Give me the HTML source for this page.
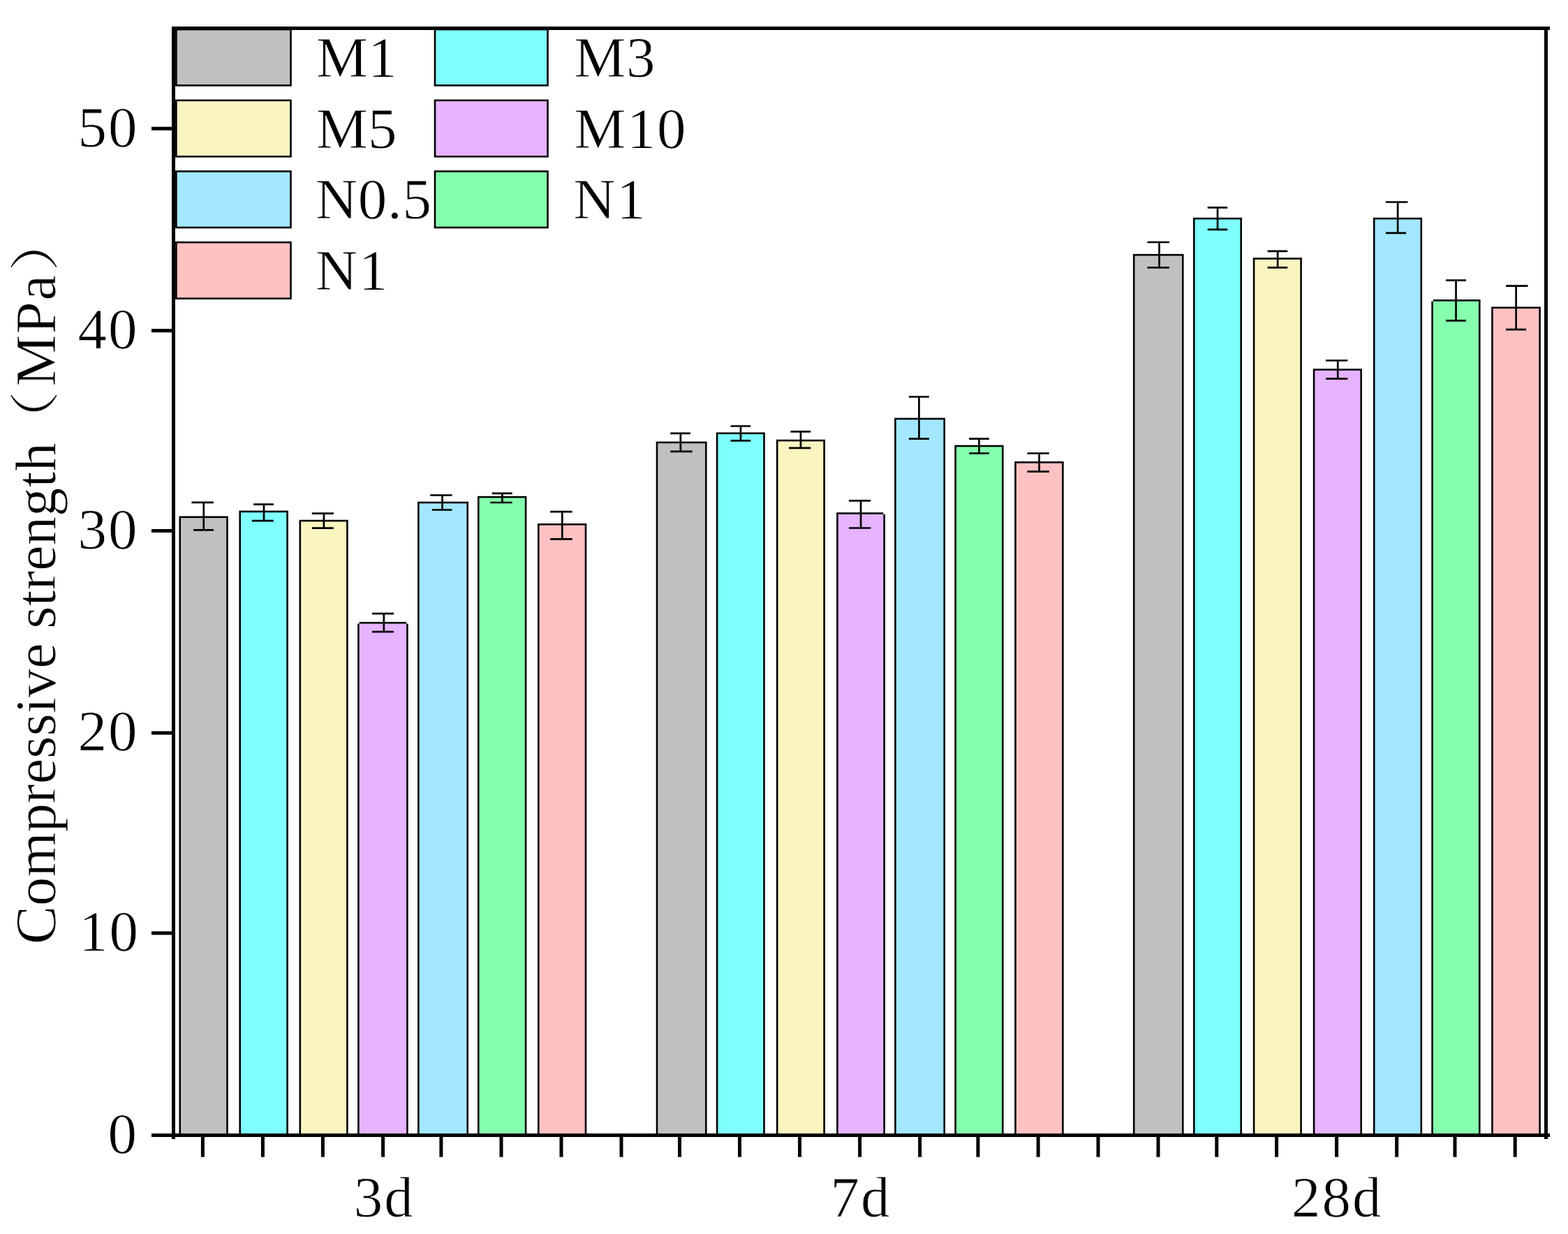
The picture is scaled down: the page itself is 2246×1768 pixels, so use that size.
<!DOCTYPE html>
<html lang="en">
<head>
<meta charset="utf-8">
<title>Compressive strength</title>
<style>
html,body{margin:0;padding:0;background:#fff;}
body{width:2246px;height:1768px;overflow:hidden;}
svg{display:block;}
text{font-family:'Liberation Serif', 'Noto Serif CJK SC', serif;fill:#000;stroke:#fff;stroke-width:0.8px;}
.bar{stroke:#000;stroke-width:2.6;}
.eb{stroke:#000;stroke-width:2.7;fill:none;}
.ax{fill:#000;}
.cjk{font-family:'Noto Serif CJK SC','Liberation Serif',serif;}
</style>
</head>
<body>
<svg width="2246" height="1768" viewBox="0 0 2246 1768">
<rect x="0" y="0" width="2246" height="1768" fill="#fff"/>
<g id="bars">
<rect class="bar" x="257.75" y="740.8" width="67.75" height="885.2" fill="#C0C0C0"/>
<rect class="bar" x="343.7" y="732.9" width="67.9" height="893.1" fill="#7FFFFF"/>
<rect class="bar" x="429.8" y="746.1" width="67.6" height="879.9" fill="#FAF4C0"/>
<rect class="bar" x="513.4" y="892.3" width="70" height="733.7" fill="#E6B3FF"/>
<rect x="511.6" y="890.5" width="3.1" height="3.1" fill="#fff"/>
<rect x="582.1" y="890.5" width="3.1" height="3.1" fill="#fff"/>
<rect class="bar" x="599.4" y="720" width="70.3" height="906" fill="#A3E7FF"/>
<rect class="bar" x="685.3" y="712.1" width="67.8" height="913.9" fill="#85FFAD"/>
<rect class="bar" x="771.3" y="751.3" width="67.7" height="874.7" fill="#FFC2C2"/>
<rect class="bar" x="941" y="633.9" width="70.3" height="992.1" fill="#C0C0C0"/>
<rect class="bar" x="1027.1" y="620.8" width="67.4" height="1005.2" fill="#7FFFFF"/>
<rect class="bar" x="1113.2" y="631.1" width="67.4" height="994.9" fill="#FAF4C0"/>
<rect class="bar" x="1199.4" y="735.5" width="67.2" height="890.5" fill="#E6B3FF"/>
<rect x="1265.3" y="733.7" width="3.1" height="3.1" fill="#fff"/>
<rect class="bar" x="1282.4" y="600" width="70.3" height="1026" fill="#A3E7FF"/>
<rect class="bar" x="1368.6" y="639" width="67.7" height="987" fill="#85FFAD"/>
<rect class="bar" x="1454.5" y="662.4" width="67.9" height="963.6" fill="#FFC2C2"/>
<rect class="bar" x="1624.2" y="365.2" width="70.1" height="1260.8" fill="#C0C0C0"/>
<rect class="bar" x="1710.3" y="313.1" width="67.4" height="1312.9" fill="#7FFFFF"/>
<rect class="bar" x="1796.1" y="370.5" width="67.5" height="1255.5" fill="#FAF4C0"/>
<rect class="bar" x="1882.1" y="529.6" width="67.6" height="1096.4" fill="#E6B3FF"/>
<rect class="bar" x="1968.2" y="313.1" width="67.6" height="1312.9" fill="#A3E7FF"/>
<rect class="bar" x="2051.6" y="430.4" width="67.7" height="1195.6" fill="#85FFAD"/>
<rect x="2049.8" y="428.6" width="3.1" height="3.1" fill="#fff"/>
<rect class="bar" x="2137.5" y="440.8" width="68.1" height="1185.2" fill="#FFC2C2"/>
</g>
<g id="errors">
<path class="eb" d="M274.5 719.9H306M291.75 719.9V759.4M277.1 759.4H306"/>
<path class="eb" d="M363.2 722.7H391.9M378 722.7V746.1M360.8 746.1H391.9"/>
<path class="eb" d="M446.8 735.6H477.9M463.95 735.6V756.6M446.8 756.6H477.9"/>
<path class="eb" d="M533.1 879.2H564M549.85 879.2V905.2M533.1 905.2H564"/>
<path class="eb" d="M616.1 709.5H647.6M633.55 709.5V730.5M618.9 730.5H647.6"/>
<path class="eb" d="M705 706.9H733.7M719.45 706.9V720M702.3 720H733.7"/>
<path class="eb" d="M788.1 733.1H819.7M805.3 733.1V772.3M788.1 772.3H819.7"/>
<path class="eb" d="M960.2 620.9H989M974.85 620.9V646.9M960.2 646.9H991.8"/>
<path class="eb" d="M1046.5 610.5H1075.2M1060.95 610.5V631.3M1046.5 631.3H1075.2"/>
<path class="eb" d="M1132.4 618.3H1161.3M1146.95 618.3V641.8M1130 641.8H1161.3"/>
<path class="eb" d="M1216 717.3H1247.3M1233.05 717.3V756.5M1216 756.5H1247.3"/>
<path class="eb" d="M1301.9 568.5H1330.8M1316.45 568.5V628.7M1301.9 628.7H1330.8"/>
<path class="eb" d="M1388.1 628.7H1416.9M1402.45 628.7V649.5M1388.1 649.5H1416.9"/>
<path class="eb" d="M1471.5 649.5H1502.9M1488.55 649.5V675.6M1471.5 675.6H1502.9"/>
<path class="eb" d="M1643.5 347H1674.9M1660.5 347V383.4M1643.5 383.4H1674.9"/>
<path class="eb" d="M1729.7 297.3H1758.2M1744.05 297.3V328.8M1729.7 328.8H1758.2"/>
<path class="eb" d="M1815.6 359.9H1844.3M1830.15 359.9V383.4M1815.6 383.4H1844.3"/>
<path class="eb" d="M1899 516.5H1930.4M1916.25 516.5V542.7M1899 542.7H1930.4"/>
<path class="eb" d="M1984.9 289.5H2016.5M2002.15 289.5V333.9M1984.9 333.9H2014"/>
<path class="eb" d="M2071 401.7H2100M2085.55 401.7V459.3M2071 459.3H2100"/>
<path class="eb" d="M2157.1 409.6H2188.5M2171.65 409.6V472.2M2157.1 472.2H2186"/>
</g>
<g id="legend">
<rect class="bar" x="252.4" y="42.1" width="164.1" height="80.3" fill="#C0C0C0"/>
<text x="453.1" y="110.05" font-size="83" letter-spacing="0">M1</text>
<rect class="bar" x="623" y="42.1" width="161.5" height="80.3" fill="#7FFFFF"/>
<text x="822.6" y="110.05" font-size="83" letter-spacing="0.5">M3</text>
<rect class="bar" x="252.4" y="143.8" width="164.1" height="80.5" fill="#FAF4C0"/>
<text x="453.1" y="211.8" font-size="83" letter-spacing="0">M5</text>
<rect class="bar" x="623" y="143.8" width="161.5" height="80.5" fill="#E6B3FF"/>
<text x="822.6" y="211.8" font-size="83" letter-spacing="1.5">M10</text>
<rect class="bar" x="252.4" y="245.5" width="164.1" height="80.5" fill="#A3E7FF"/>
<text x="451.9" y="313.3" font-size="83" letter-spacing="0.8">N0.5</text>
<rect class="bar" x="623" y="245.5" width="161.5" height="80.5" fill="#85FFAD"/>
<text x="821.4" y="313.3" font-size="83" letter-spacing="2">N1</text>
<rect class="bar" x="252.4" y="347.2" width="164.1" height="80.5" fill="#FFC2C2"/>
<text x="451.9" y="415.1" font-size="83" letter-spacing="2">N1</text>
</g>
<g id="axes" class="ax">
<rect x="246" y="38" width="5" height="1594"/>
<rect x="246" y="38" width="1974" height="5"/>
<rect x="2212" y="38" width="5" height="1594"/>
<rect x="217" y="1624" width="2003" height="5"/>
<rect x="217" y="181.7" width="30" height="5"/>
<rect x="217" y="471.2" width="30" height="5"/>
<rect x="217" y="758" width="30" height="5"/>
<rect x="217" y="1047.6" width="30" height="5"/>
<rect x="217" y="1334.4" width="30" height="5"/>
<rect x="287.9" y="1626" width="5" height="31.7"/>
<rect x="373.9" y="1626" width="5" height="31.7"/>
<rect x="459.9" y="1626" width="5" height="31.7"/>
<rect x="546.1" y="1626" width="5" height="31.7"/>
<rect x="629.4" y="1626" width="5" height="31.7"/>
<rect x="715.5" y="1626" width="5" height="31.7"/>
<rect x="801.5" y="1626" width="5" height="31.7"/>
<rect x="887.5" y="1626" width="5" height="31.7"/>
<rect x="971" y="1626" width="5" height="31.7"/>
<rect x="1057" y="1626" width="5" height="31.7"/>
<rect x="1143" y="1626" width="5" height="31.7"/>
<rect x="1229.1" y="1626" width="5" height="31.7"/>
<rect x="1315.1" y="1626" width="5" height="31.7"/>
<rect x="1398.4" y="1626" width="5" height="31.7"/>
<rect x="1484.6" y="1626" width="5" height="31.7"/>
<rect x="1570.5" y="1626" width="5" height="31.7"/>
<rect x="1656.5" y="1626" width="5" height="31.7"/>
<rect x="1740.3" y="1626" width="5" height="31.7"/>
<rect x="1826.1" y="1626" width="5" height="31.7"/>
<rect x="1912.1" y="1626" width="5" height="31.7"/>
<rect x="1998.2" y="1626" width="5" height="31.7"/>
<rect x="2081.5" y="1626" width="5" height="31.7"/>
<rect x="2167.7" y="1626" width="5" height="31.7"/>
</g>
<g id="ylabels" font-size="83" letter-spacing="2">
<text x="111.6" y="209.5">50</text>
<text x="111.6" y="499">40</text>
<text x="111.6" y="785.8">30</text>
<text x="111.6" y="1075.4">20</text>
<text x="113.1" y="1362.2">10</text>
<text x="154.6" y="1651.8">0</text>
</g>
<g id="xlabels" font-size="83" letter-spacing="2">
<text x="506.8" y="1742.8">3d</text>
<text x="1189.4" y="1742.8">7d</text>
<text x="1850" y="1742.8">28d</text>
</g>
<g id="ytitle"><text font-size="82.7" transform="translate(79 1353.1) rotate(-90)">Compressive strength</text><text class="cjk" font-size="83" transform="translate(75.33 646.4) rotate(-90) scale(1.05 0.86)">（</text><text font-size="83" letter-spacing="1.4" transform="translate(79 553.6) rotate(-90)">MPa</text><text class="cjk" font-size="83" transform="translate(75.33 389.35) rotate(-90) scale(1.05 0.86)">）</text></g>
</svg>
</body>
</html>
